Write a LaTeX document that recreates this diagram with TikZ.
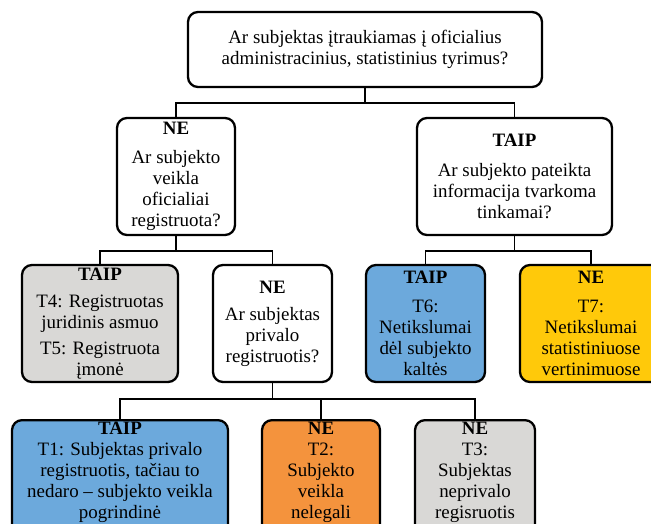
\documentclass[tikz,border=0pt]{standalone}
\usepackage{fontspec}
\setmainfont{Liberation Serif}
\definecolor{cellgray}{HTML}{D9D8D6}
\definecolor{cellblue}{HTML}{6CA9DC}
\definecolor{cellorange}{HTML}{F4933D}
\definecolor{cellyellow}{HTML}{FFC90A}
\tikzset{
    box/.style={draw, line width=2.3pt, rounded corners=10bp, align=center,
        inner sep=0pt, font=\rmfamily\fontsize{19}{21}\selectfont},
    link/.style={line width=1.8pt},
}
\begin{document}
\begin{tikzpicture}[x=1bp, y=-1bp]
    \useasboundingbox (0,0) rectangle (651,524);
    \clip (0,0) rectangle (651,524);

    % Draw the question box at the top
    \node[box, minimum width=354bp, minimum height=75bp] (top) at (365, 49.5)
        {Ar subjektas įtraukiamas į oficialius\\administracinius, statistinius tyrimus?};

    % Draw the second level questions
    \node[box, minimum width=118bp, minimum height=117bp] (ne1) at (176, 176.5)
        {\textbf{NE}\\[8bp]Ar subjekto\\veikla\\oficialiai\\registruota?};
    \node[box, minimum width=195bp, minimum height=117bp] (taip1) at (514.5, 176.5)
        {\textbf{TAIP}\\[9bp]Ar subjekto pateikta\\informacija tvarkoma\\tinkamai?};

    % Draw the third level boxes
    \node[box, fill=cellgray, minimum width=156bp, minimum height=117bp] (t45) at (100, 323.5)
        {\textbf{TAIP}\\[6bp]T4: Registruotas\\juridinis asmuo\\[5bp]T5: Registruota\\įmonė};
    \node[box, minimum width=119bp, minimum height=117bp] (ne2) at (272.5, 323.5)
        {\textbf{NE}\\[6bp]Ar subjektas\\privalo\\registruotis?};
    \node[box, fill=cellblue, minimum width=119bp, minimum height=117bp] (t6) at (425.5, 323.5)
        {\textbf{TAIP}\\[8bp]T6:\\Netikslumai\\dėl subjekto\\kaltės};
    \node[box, fill=cellyellow, minimum width=142bp, minimum height=117bp] (t7) at (591, 323.5)
        {\textbf{NE}\\[8bp]T7:\\Netikslumai\\statistiniuose\\vertinimuose};

    % Draw the bottom boxes (cut by the lower edge)
    \node[box, fill=cellblue, anchor=north, minimum width=216bp, minimum height=125bp] (t1) at (120, 419)
        {\textbf{TAIP}\\T1: Subjektas privalo\\registruotis, tačiau to\\nedaro -- subjekto veikla\\pogrindinė\rule[-25bp]{0pt}{25bp}};
    \node[box, fill=cellorange, anchor=north, minimum width=118bp, minimum height=125bp] (t2) at (321, 419)
        {\textbf{NE}\\T2:\\Subjekto\\veikla\\nelegali\rule[-25bp]{0pt}{25bp}};
    \node[box, fill=cellgray, anchor=north, minimum width=120bp, minimum height=125bp] (t3) at (475, 419)
        {\textbf{NE}\\T3:\\Subjektas\\neprivalo\\regisruotis\rule[-25bp]{0pt}{25bp}};

    % Draw the connectors
    \draw[link] (top.south) -- ++(0,15) coordinate (j1);
    \draw[link] (ne1.north) |- (j1) -| (taip1.north);
    \draw[link] (ne1.south) -- ++(0,15) coordinate (j2);
    \draw[link] (t45.north) |- (j2) -| (ne2.north);
    \draw[link] (taip1.south) -- ++(0,15) coordinate (j3);
    \draw[link] (t6.north) |- (j3) -| (t7.north);
    \draw[link] (ne2.south) -- ++(0,16) coordinate (j4);
    \draw[link] (t1.north) |- (j4) -| (t3.north);
    \draw[link] (j4) -| (t2.north);
\end{tikzpicture}
\end{document}
